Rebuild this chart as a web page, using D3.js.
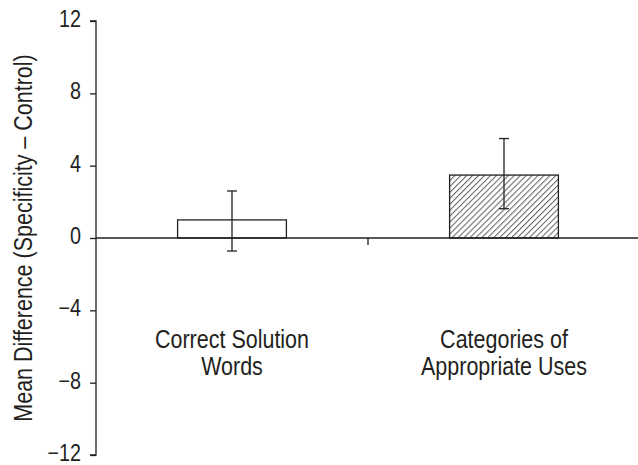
<!DOCTYPE html>
<html>
<head>
<meta charset="utf-8">
<script src="https://cdn.jsdelivr.net/npm/d3@7/dist/d3.min.js"></script>
<style>
  html, body { margin: 0; padding: 0; background: #fff; }
  svg { display: block; }
  text { font-family: "Liberation Sans", Arial, sans-serif; fill: #231f20; }
</style>
</head>
<body>
<svg id="chart" width="638" height="465"></svg>
<script>
const categories = ["Correct Solution|Words", "Categories of|Appropriate Uses"];
const means = [1.0, 3.48];
const errUpper = [2.6, 5.5];
const errLower = [-0.72, 1.62];
const hatched = [false, true];
const yTicks = [-12, -8, -4, 0, 4, 8, 12];
const yTitle = "Mean Difference (Specificity \u2013 Control)";

(function () {
const svg = d3.select("#chart");
const W = 638;
const mLeft = 96, mRight = 640, mTop = 21, mBottom = 455;
const ink = "#231f20";
const squeeze = 0.86;

const defs = svg.append("defs");
const pat = defs.append("pattern")
  .attr("id", "hatch").attr("patternUnits", "userSpaceOnUse")
  .attr("width", 4.2).attr("height", 4.2)
  .attr("patternTransform", "rotate(45)");
pat.append("rect").attr("width", 4.2).attr("height", 4.2).attr("fill", "#fff");
pat.append("line").attr("x1", 0).attr("y1", 0).attr("x2", 0).attr("y2", 4.2)
  .attr("stroke", "#666").attr("stroke-width", 2.1);

const x = d3.scaleBand().domain(categories).range([mLeft, mRight])
  .paddingInner(0.6).paddingOuter(0.3);
const y = d3.scaleLinear().domain([-12, 12]).range([mBottom, mTop]);

// Y axis
const yAxis = d3.axisLeft(y).tickValues(yTicks).tickSize(6).tickPadding(9)
  .tickFormat(d => d < 0 ? "\u2212" + Math.abs(d) : String(d));
const gy = svg.append("g").attr("transform", `translate(${mLeft},0)`).call(yAxis);
gy.select(".domain").attr("stroke", ink).attr("stroke-width", 1.3).attr("d", `M-6,${y(12)}H0V${y(-12)}H-6`);
gy.selectAll(".tick line").attr("stroke", ink).attr("stroke-width", 1.3);
gy.selectAll(".tick text")
  .attr("font-size", 23).attr("dy", "0.24em").style("fill", ink)
  .attr("font-family", "'Liberation Sans', Arial, sans-serif")
  .attr("x", null)
  .attr("transform", `translate(-15,0) scale(${squeeze},1)`);

// Bars
const bw = x.bandwidth();
svg.selectAll("rect.bar").data(categories).enter().append("rect")
  .attr("class", "bar")
  .attr("x", d => x(d))
  .attr("width", bw)
  .attr("y", (d, i) => y(Math.max(0, means[i])))
  .attr("height", (d, i) => Math.abs(y(means[i]) - y(0)))
  .attr("fill", (d, i) => hatched[i] ? "url(#hatch)" : "#fff")
  .attr("stroke", ink).attr("stroke-width", 1.3);

// Zero line (x axis)
const xAxis = d3.axisBottom(x).tickSize(0).tickFormat("");
const gx = svg.append("g").attr("transform", `translate(0,${y(0)})`).call(xAxis);
gx.select(".domain").attr("stroke", ink).attr("stroke-width", 1.3).attr("d", `M${mLeft},0H${W}`);
gx.selectAll(".tick").remove();
const mid = (x(categories[0]) + bw / 2 + x(categories[1]) + bw / 2) / 2;
svg.append("line").attr("x1", mid).attr("x2", mid).attr("y1", y(0)).attr("y2", y(0) + 7)
  .attr("stroke", ink).attr("stroke-width", 1.3);

// Error bars
const cap = 5;
categories.forEach((c, i) => {
  const cx = x(c) + bw / 2;
  const g = svg.append("g").attr("stroke", ink).attr("stroke-width", 1.3);
  g.append("line").attr("x1", cx).attr("x2", cx).attr("y1", y(errUpper[i])).attr("y2", y(errLower[i]));
  g.append("line").attr("x1", cx - cap).attr("x2", cx + cap).attr("y1", y(errUpper[i])).attr("y2", y(errUpper[i]));
  g.append("line").attr("x1", cx - cap).attr("x2", cx + cap).attr("y1", y(errLower[i])).attr("y2", y(errLower[i]));
});

// Category labels
categories.forEach(c => {
  const cx = x(c) + bw / 2;
  c.split("|").forEach((ln, j) => {
    svg.append("text")
      .attr("transform", `translate(${cx},${348 + j * 27}) scale(${squeeze},1)`)
      .attr("text-anchor", "middle").attr("font-size", 25)
      .text(ln);
  });
});

// Y title
svg.append("text")
  .attr("transform", `translate(32,${(y(12) + y(-12)) / 2}) rotate(-90) scale(${squeeze},1)`)
  .attr("text-anchor", "middle").attr("font-size", 25)
  .text(yTitle);
})();
</script>
</body>
</html>
